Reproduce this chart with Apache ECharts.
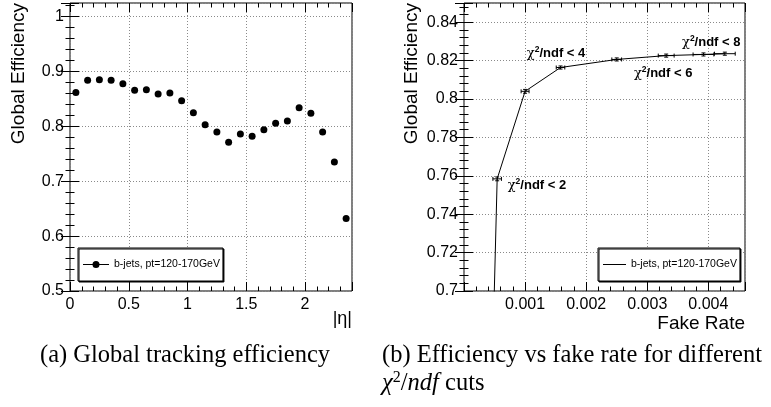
<!DOCTYPE html>
<html>
<head>
<meta charset="utf-8">
<script src="https://cdn.jsdelivr.net/npm/echarts@6/dist/echarts.min.js"></script>
<style>
  html, body { margin: 0; padding: 0; background: #fff; }
  #chart { width: 771px; height: 407px; }
</style>
</head>
<body>
<div id="chart"></div>
<script>
// (a) efficiency vs |eta|, one point per 0.1 bin
const etaBins = [0.05, 0.15, 0.25, 0.35, 0.45, 0.55, 0.65, 0.75, 0.85, 0.95, 1.05, 1.15,
                 1.25, 1.35, 1.45, 1.55, 1.65, 1.75, 1.85, 1.95, 2.05, 2.15, 2.25, 2.35];
const etaEff = [0.862, 0.884, 0.885, 0.884, 0.878, 0.866, 0.867, 0.859, 0.861, 0.847, 0.825, 0.803,
                0.790, 0.771, 0.786, 0.782, 0.794, 0.806, 0.810, 0.834, 0.824, 0.790, 0.735, 0.632];

// (b) efficiency vs fake rate for chi2/ndf cuts (first point falls below the frame)
const fakeRate = [0.00044, 0.000543, 0.00100, 0.00158, 0.00250, 0.00331, 0.00392, 0.00427];
const cutEff   = [0.630, 0.7584, 0.8040, 0.8164, 0.8206, 0.8226, 0.8232, 0.8236];
const fakeErr  = [0.00007, 0.00007, 0.000065, 0.00007, 0.00008, 0.00013, 0.00017, 0.00017];
const effErr   = [0.001, 0.001, 0.001, 0.0008, 0.0008, 0.0008, 0.0008, 0.0008];

// cut labels drawn next to the curve
const cutNames = ['2', '4', '6', '8'];
const cutLabelX = [0.000716, 0.001028, 0.002782, 0.003569];
const cutLabelY = [0.7550, 0.8237, 0.8133, 0.8294];

const legendText = 'b-jets, pt=120-170GeV';

var myChart = echarts.init(document.getElementById('chart'));

const sans = 'Liberation Sans';
const serif = 'Liberation Serif';
const tickStyle = { color: '#000', width: 1 };

// show a label only on the major ticks (hides the extra tick at max)
function onTicks(interval, hideZero) {
    return function (v) {
        const k = v / interval;
        if (Math.abs(k - Math.round(k)) > 1e-6) return '';
        if (hideZero && Math.abs(v) < 1e-12) return '';
        return String(+v.toFixed(6));
    };
}

function tickAxis(gridIndex, pos, min, max, interval, len) {
    return {
        type: 'value', gridIndex: gridIndex, position: pos, min: min, max: max, interval: interval,
        axisLine: { show: false },
        axisTick: { show: true, inside: true, length: len, lineStyle: tickStyle },
        axisLabel: { show: false },
        splitLine: { show: false }
    };
}

// ROOT-like frame: major + minor ticks on both sides, labels and grid on the main one
function frameAxes(gridIndex, sides, min, max, major, minor, hideZero) {
    const main = tickAxis(gridIndex, sides[0], min, max, major, 9);
    main.axisLabel = {
        show: true, color: '#000', fontFamily: sans, fontSize: 16, margin: 6,
        formatter: onTicks(major, hideZero)
    };
    main.splitLine = { show: true, lineStyle: { color: '#8a8a8a', type: [1, 2], width: 1 } };
    return [
        main,
        tickAxis(gridIndex, sides[0], min, max, minor, 4.5),
        tickAxis(gridIndex, sides[1], min, max, major, 9),
        tickAxis(gridIndex, sides[1], min, max, minor, 4.5)
    ];
}

const xAxes = frameAxes(0, ['bottom', 'top'], 0, 2.4, 0.5, 0.1, false)
    .concat(frameAxes(1, ['bottom', 'top'], 0, 0.0046, 0.001, 0.0002, true));
const yAxes = frameAxes(0, ['left', 'right'], 0.5, 1.025, 0.1, 0.02, false)
    .concat(frameAxes(1, ['left', 'right'], 0.7, 0.85, 0.02, 0.004, false));

const curveData = fakeRate.map((f, i) => [f, cutEff[i]]);
const errData = fakeRate.map((f, i) => [f, cutEff[i], fakeErr[i], effErr[i]]);
const cutData = cutNames.map((n, i) => ({
    value: [cutLabelX[i], cutLabelY[i]],
    label: { formatter: '{c|χ}{s|2}{b|/ndf < ' + n + '}' }
}));

function renderErr(params, api) {
    const x = api.value(0), y = api.value(1), ex = api.value(2), ey = api.value(3);
    const l = api.coord([x - ex, y]), r = api.coord([x + ex, y]);
    const b = api.coord([x, y - ey]), t = api.coord([x, y + ey]);
    const cap = 2;
    const st = { stroke: '#000', lineWidth: 1 };
    const seg = (x1, y1, x2, y2) => ({ type: 'line', shape: { x1: x1, y1: y1, x2: x2, y2: y2 }, style: st });
    return {
        type: 'group',
        children: [
            seg(l[0], l[1], r[0], r[1]),
            seg(l[0], l[1] - cap, l[0], l[1] + cap),
            seg(r[0], r[1] - cap, r[0], r[1] + cap),
            seg(b[0], b[1], t[0], t[1]),
            seg(t[0] - cap, t[1], t[0] + cap, t[1]),
            seg(b[0] - cap, b[1], b[0] + cap, b[1])
        ]
    };
}

const legendBase = {
    orient: 'horizontal', top: 248, selectedMode: false,
    backgroundColor: '#fff', borderColor: '#000', borderWidth: 1,
    shadowColor: '#000', shadowOffsetX: 1, shadowOffsetY: 1, shadowBlur: 0,
    textStyle: { fontFamily: sans, fontSize: 10.5, color: '#000' },
    formatter: () => legendText
};

const dotLine = 'path://M0,3.1 L26,3.1 L26,3.9 L0,3.9 Z M13,0 A3.5,3.5 0 1 1 13,7 A3.5,3.5 0 1 1 13,0 Z';

var option = {
    backgroundColor: '#fff',
    animation: false,
    grid: [
        { left: 70, top: 3, width: 282, height: 288, show: true, borderColor: '#000', borderWidth: 1 },
        { left: 464, top: 3, width: 281, height: 288, show: true, borderColor: '#000', borderWidth: 1 }
    ],
    xAxis: xAxes,
    yAxis: yAxes,
    legend: [
        Object.assign({}, legendBase, {
            left: 78, padding: [11, 3, 11, 5], itemWidth: 26, itemHeight: 7,
            data: [{ name: 'eta', icon: dotLine }]
        }),
        Object.assign({}, legendBase, {
            left: 598, padding: [11, 3, 11, 5], itemWidth: 23, itemHeight: 1,
            data: [{ name: 'curve', icon: 'rect' }]
        })
    ],
    series: [
        {
            name: 'eta', type: 'scatter', xAxisIndex: 0, yAxisIndex: 0,
            data: etaBins.map((x, i) => [x, etaEff[i]]),
            symbol: 'circle', symbolSize: 7, itemStyle: { color: '#000', opacity: 1 }
        },
        {
            name: 'curve', type: 'line', xAxisIndex: 4, yAxisIndex: 4,
            data: curveData, symbol: 'none', clip: true,
            itemStyle: { color: '#000' }, lineStyle: { color: '#000', width: 1 }
        },
        {
            name: 'errors', type: 'custom', xAxisIndex: 4, yAxisIndex: 4, clip: true,
            data: errData, encode: { x: 0, y: 1 }, renderItem: renderErr
        },
        {
            name: 'cuts', type: 'scatter', xAxisIndex: 4, yAxisIndex: 4,
            data: cutData, symbolSize: 0, silent: true,
            itemStyle: { color: '#000', opacity: 1 },
            label: {
                show: true, position: [0, 0], align: 'left', verticalAlign: 'middle',
                color: '#000', opacity: 1,
                rich: {
                    c: { fontFamily: 'DejaVu Serif', fontSize: 13, color: '#000', lineHeight: 16 },
                    s: { fontFamily: sans, fontWeight: 'bold', fontSize: 8.5, color: '#000', verticalAlign: 'top', lineHeight: 16 },
                    b: { fontFamily: sans, fontWeight: 'bold', fontSize: 13, color: '#000', lineHeight: 16 }
                }
            }
        }
    ],
    graphic: [
        { type: 'text', x: 19, y: 3, rotation: Math.PI / 2,
          style: { text: 'Global Efficiency', fontFamily: sans, fontSize: 19, fill: '#000', align: 'right', verticalAlign: 'middle' } },
        { type: 'text', x: 412, y: 3, rotation: Math.PI / 2,
          style: { text: 'Global Efficiency', fontFamily: sans, fontSize: 19, fill: '#000', align: 'right', verticalAlign: 'middle' } },
        { type: 'text', x: 352, y: 319,
          style: { text: '|η|', fontFamily: sans, fontSize: 18, fill: '#000', align: 'right', verticalAlign: 'middle' } },
        { type: 'text', x: 745, y: 324,
          style: { text: 'Fake Rate', fontFamily: sans, fontSize: 19, fill: '#000', align: 'right', verticalAlign: 'middle' } },
        { type: 'text', x: 40, y: 356,
          style: { text: '(a) Global tracking efficiency', fontFamily: serif, fontSize: 24.5, fill: '#000', align: 'left', verticalAlign: 'middle' } },
        { type: 'text', x: 382, y: 356,
          style: { text: '(b) Efficiency vs fake rate for different', fontFamily: serif, fontSize: 24.5, fill: '#000', align: 'left', verticalAlign: 'middle' } },
        { type: 'text', x: 382, y: 384,
          style: {
              text: '{i|χ}{s|2}{n|/}{i|ndf}{n| cuts}', align: 'left', verticalAlign: 'middle', fill: '#000',
              rich: {
                  i: { fontFamily: serif, fontStyle: 'italic', fontSize: 24.5, lineHeight: 28 },
                  s: { fontFamily: serif, fontSize: 16, verticalAlign: 'top', lineHeight: 28 },
                  n: { fontFamily: serif, fontSize: 24.5, lineHeight: 28 }
              }
          } }
    ]
};

myChart.setOption(option);
</script>
</body>
</html>
